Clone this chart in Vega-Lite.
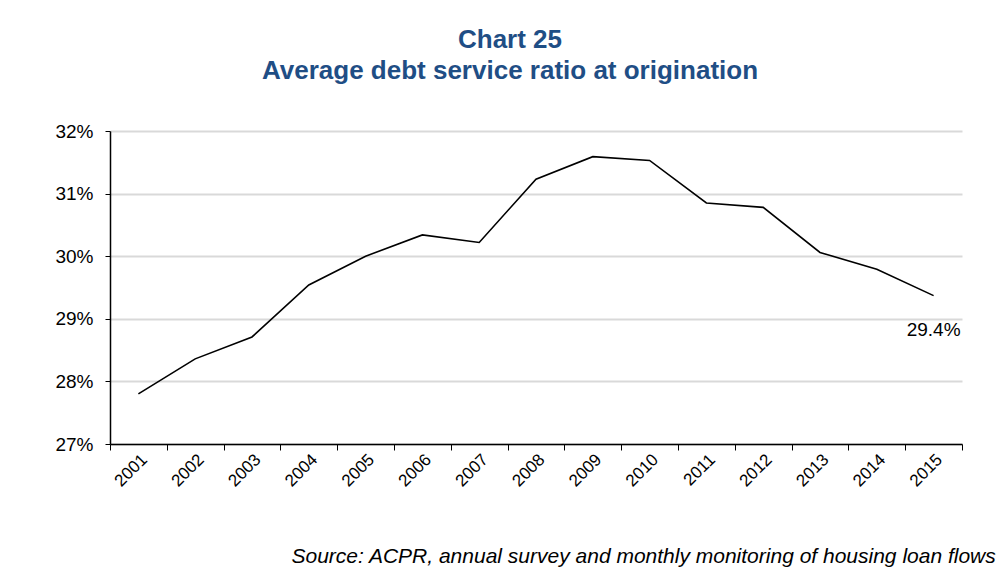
{
  "$schema": "https://vega.github.io/schema/vega-lite/v6.json",
  "autosize": "none",
  "width": 852,
  "height": 313,
  "padding": {"left": 110, "top": 131, "right": 41, "bottom": 132},
  "background": "white",
  "title": {
    "text": ["Chart 25", "Average debt service ratio at origination"],
    "anchor": "middle",
    "frame": "group",
    "dx": -26,
    "offset": 38,
    "font": "Liberation Sans",
    "fontSize": 26,
    "fontWeight": "bold",
    "color": "#1F4E85",
    "lineHeight": 31
  },
  "data": {
    "values": [
      {"year": "2001", "ratio": 0.2780},
      {"year": "2002", "ratio": 0.2836},
      {"year": "2003", "ratio": 0.2871},
      {"year": "2004", "ratio": 0.2954},
      {"year": "2005", "ratio": 0.3000},
      {"year": "2006", "ratio": 0.3034},
      {"year": "2007", "ratio": 0.3022},
      {"year": "2008", "ratio": 0.3123},
      {"year": "2009", "ratio": 0.3159},
      {"year": "2010", "ratio": 0.3153},
      {"year": "2011", "ratio": 0.3085},
      {"year": "2012", "ratio": 0.3078},
      {"year": "2013", "ratio": 0.3006},
      {"year": "2014", "ratio": 0.2979},
      {"year": "2015", "ratio": 0.2937, "label": "29.4%"}
    ]
  },
  "encoding": {
    "x": {
      "field": "year",
      "type": "ordinal",
      "scale": {"type": "band", "paddingInner": 0, "paddingOuter": 0},
      "axis": {
        "title": "Source: ACPR, annual survey and monthly monitoring of housing loan flows",
        "titleFont": "Liberation Sans",
        "titleFontSize": 21,
        "titleFontStyle": "italic",
        "titleFontWeight": "normal",
        "titleColor": "#000000",
        "titleAlign": "left",
        "titleAnchor": "start",
        "titleBaseline": "middle",
        "titleX": 181,
        "titleY": 112,
        "labelAngle": -45,
        "labelFont": "Liberation Sans",
        "labelFontSize": 17,
        "labelColor": "#000000",
        "labelPadding": 1,
        "tickBand": "extent",
        "tickSize": 6,
        "tickColor": "#000000",
        "domainColor": "#000000",
        "domainWidth": 1.5,
        "grid": false
      }
    },
    "y": {
      "field": "ratio",
      "type": "quantitative",
      "scale": {"domain": [0.27, 0.32], "nice": false, "zero": false},
      "axis": {
        "title": null,
        "format": ".0%",
        "values": [0.27, 0.28, 0.29, 0.30, 0.31, 0.32],
        "labelFont": "Liberation Sans",
        "labelFontSize": 19,
        "labelColor": "#000000",
        "labelPadding": 12,
        "tickSize": 5,
        "tickColor": "#000000",
        "domainColor": "#000000",
        "domainWidth": 1.5,
        "grid": true,
        "gridColor": "#D9D9D9",
        "gridWidth": 2
      }
    }
  },
  "layer": [
    {
      "mark": {"type": "line", "color": "#000000", "strokeWidth": 1.6}
    },
    {
      "transform": [{"filter": "isValid(datum.label)"}],
      "mark": {
        "type": "text",
        "font": "Liberation Sans",
        "fontSize": 19,
        "color": "#000000",
        "align": "center",
        "baseline": "middle",
        "dy": 34
      },
      "encoding": {"text": {"field": "label"}}
    }
  ],
  "config": {
    "view": {"stroke": null}
  }
}
